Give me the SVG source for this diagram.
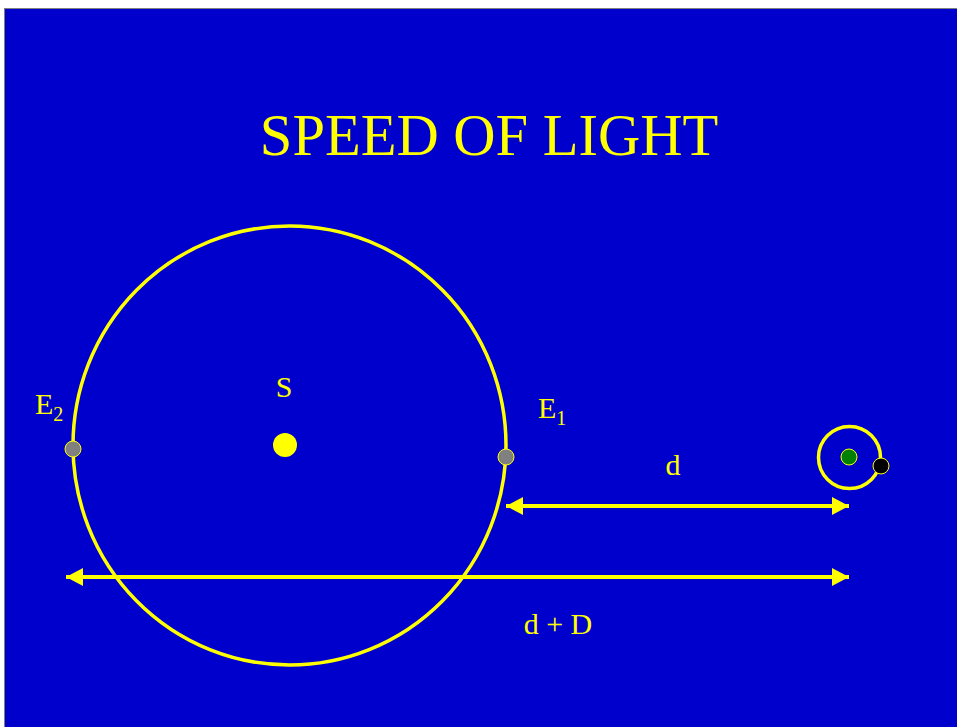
<svg xmlns="http://www.w3.org/2000/svg" width="957" height="727" viewBox="0 0 957 727">
<defs>
<style>
text{font-family:"Liberation Serif","Times New Roman",serif;fill:#FFFF00}
.lbl{font-size:30px}
.sub{font-size:20px}
.ln{stroke:#FFFF00;stroke-width:4;fill:none}
.dot{stroke:#FFFF00;stroke-width:1}
</style>
<marker id="ah" viewBox="0 0 17 18" refX="17" refY="9" markerWidth="17" markerHeight="18" markerUnits="userSpaceOnUse" orient="auto-start-reverse">
<path d="M0,0 L17,9 L0,18 Z" fill="#FFFF00"/>
</marker>
</defs>
<rect x="0" y="0" width="957" height="727" fill="#FFFFFF"/>
<rect x="4.5" y="8.5" width="960" height="730" fill="#0000CC" stroke="#808080" stroke-width="1"/>
<text x="489" y="155" font-size="58.5" text-anchor="middle">SPEED OF LIGHT</text>
<g id="orbit"><ellipse cx="289.5" cy="445.5" rx="216.5" ry="219.5" fill="none" stroke="#FFFF00" stroke-width="3.5"/></g>
<g id="sun"><circle cx="285" cy="445" r="12" fill="#FFFF00"/><text class="lbl" x="284" y="397" text-anchor="middle">S</text></g>
<g id="e2"><circle class="dot" cx="73" cy="449" r="8" fill="#808080"/><text class="lbl" x="35" y="414">E<tspan class="sub" dy="7">2</tspan></text></g>
<g id="e1"><circle class="dot" cx="506" cy="457" r="8" fill="#808080"/><text class="lbl" x="538" y="418">E<tspan class="sub" dy="7">1</tspan></text></g>
<g id="jupiter">
<circle cx="849.5" cy="457.5" r="31" fill="none" stroke="#FFFF00" stroke-width="3.5"/>
<circle class="dot" cx="849" cy="457" r="8" fill="#008000"/>
<circle class="dot" cx="881" cy="466" r="8" fill="#000000"/>
</g>
<g id="connectors">
<line class="ln" x1="506" y1="506" x2="849" y2="506" marker-start="url(#ah)" marker-end="url(#ah)"/>
<line class="ln" x1="66" y1="577" x2="849" y2="577" marker-start="url(#ah)" marker-end="url(#ah)"/>
</g>
<text class="lbl" x="673" y="475" text-anchor="middle">d</text>
<text class="lbl" x="558" y="634" text-anchor="middle">d + D</text>
</svg>
